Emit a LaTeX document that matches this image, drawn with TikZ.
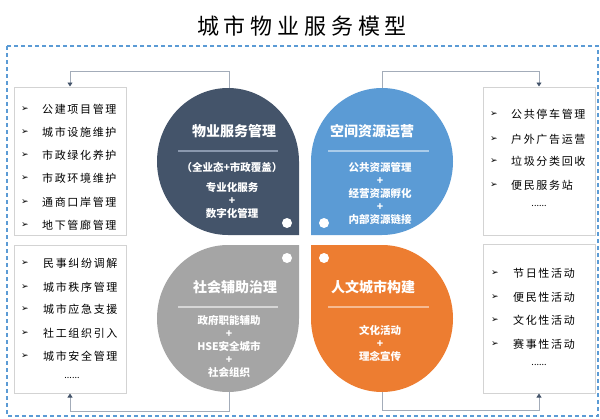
\documentclass[tikz,border=0pt]{standalone}
\usepackage{fontspec}
\setmainfont{Noto Sans CJK SC}
\newfontfamily\listfont{Noto Sans CJK SC}[LetterSpace=15]
\newfontfamily\titlefont{Noto Sans CJK SC}[LetterSpace=22]
\newfontfamily\symfont{DejaVu Sans}
\usetikzlibrary{arrows.meta}
\definecolor{cdark}{HTML}{44546A}
\definecolor{cblue}{HTML}{5B9BD5}
\definecolor{cgray}{HTML}{A5A5A5}
\definecolor{corange}{HTML}{ED7D31}
\definecolor{cline}{HTML}{A3ACB9}
\definecolor{cbox}{HTML}{D3D3D3}
\definecolor{cborder}{HTML}{5B9BD5}
\begin{document}
\begin{tikzpicture}[x=1pt,y=-1pt,
  listbox/.style={draw=cbox, line width=1pt, minimum width=112pt, minimum height=148pt, inner sep=0pt, fill=white},
  itemtext/.style={anchor=west, inner sep=0pt, font=\listfont\fontsize{11}{13}\selectfont},
  arrowmark/.style={anchor=west, inner sep=0pt, font=\symfont\fontsize{9}{10}\selectfont},
  dotstext/.style={inner sep=0pt, font=\fontsize{9}{10}\selectfont},
  qtitle/.style={text=white, inner sep=0pt, font=\bfseries\fontsize{14}{16}\selectfont},
  qtext/.style={text=white, inner sep=0pt, align=center, font=\bfseries\fontsize{10.5}{13}\selectfont},
  conn/.style={draw=cline, line width=0.9pt},
  tipped/.style={-{Triangle[length=4pt,width=5pt,color=cdark]}},
  wdot/.style={fill=white}
]
\useasboundingbox (0,0) rectangle (600,418);
% title
\node[inner sep=0pt, font=\titlefont\fontsize{22}{24}\selectfont] (title) at (302,26) {城市物业服务模型};
% dashed frame
\draw[cborder, line width=1.2pt, dash pattern=on 4pt off 3pt] (7,46) rectangle (598,416);

% quadrant shapes
\fill[cdark] (228,88) .. controls (267.2,88) and (299,120.9) .. (299,161.5) -- (299,235) -- (228,235)
  .. controls (188.8,235) and (157,202.1) .. (157,161.5) .. controls (157,120.9) and (188.8,88) .. (228,88) -- cycle;
\fill[cblue] (382,88) .. controls (421.2,88) and (453,120.9) .. (453,161.5) .. controls (453,202.1) and (421.2,235) .. (382,235)
  -- (311,235) -- (311,161.5) .. controls (311,120.9) and (342.8,88) .. (382,88) -- cycle;
\fill[cgray] (228,245) -- (299,245) -- (299,318.5) .. controls (299,359.1) and (267.2,392) .. (228,392)
  .. controls (188.8,392) and (157,359.1) .. (157,318.5) .. controls (157,277.9) and (188.8,245) .. (228,245) -- cycle;
\fill[corange] (311,245) -- (382,245) .. controls (421.2,245) and (453,277.9) .. (453,318.5) .. controls (453,359.1) and (421.2,392) .. (382,392)
  .. controls (342.8,392) and (311,359.1) .. (311,318.5) -- cycle;

\coordinate (dtop) at (229,88);
\coordinate (btop) at (382,88);
\coordinate (gbot) at (229,392);
\coordinate (obot) at (382,392);

% white dots
\fill[wdot] (287,223) circle (5);
\fill[wdot] (324,223) circle (5);
\fill[wdot] (287,258) circle (5);
\fill[wdot] (324,258) circle (5);

% divider lines
\draw[line width=1.3pt, draw={rgb,255:red,138;green,152;blue,174}] (178,151) -- (278,151);
\draw[line width=1.3pt, draw={rgb,255:red,170;green,204;blue,234}] (328,151) -- (429,151);
\draw[line width=1.3pt, draw={rgb,255:red,214;green,214;blue,214}] (178,307) -- (278,307);
\draw[line width=1.3pt, draw={rgb,255:red,246;green,186;blue,146}] (328,307) -- (429,307);

% quadrant texts
\node[qtitle] (t1) at (234,131) {物业服务管理};
\node[qtitle] (t2) at (372,131) {空间资源运营};
\node[qtitle] (t3) at (235,287) {社会辅助治理};
\node[qtitle] (t4) at (373,287) {人文城市构建};

\node[qtext] (s1a) at (232,167) {（全业态+市政覆盖）};
\node[qtext] (s1b) at (232,200) {专业化服务\\+\\数字化管理};
\node[qtext] (s2) at (380,193) {公共资源管理\\+\\经营资源孵化\\+\\内部资源链接};
\node[qtext] (s3) at (229,346) {政府职能辅助\\+\\HSE安全城市\\+\\社会组织};
\node[qtext] (s4) at (380,343) {文化活动\\+\\理念宣传};

% list boxes
\node[listbox] (lt) at (70,161) {};
\node[listbox] (lb) at (70,319) {};
\node[listbox] (rt) at (539,161) {};
\node[listbox, minimum height=149pt] (rb) at (539,318.5) {};

\foreach \t/\y [count=\i] in {公建项目管理/109, 城市设施维护/132, 市政绿化养护/155, 市政环境维护/178, 通商口岸管理/202, 地下管廊管理/225}{
  \node[arrowmark] (ltm\i) at (21,\y) {➢};
  \node[itemtext] (lti\i) at (42,\y) {\t};
}
\foreach \t/\y [count=\i] in {民事纠纷调解/263, 城市秩序管理/287, 城市应急支援/309, 社工组织引入/333, 城市安全管理/356}{
  \node[arrowmark] (lbm\i) at (21,\y) {➢};
  \node[itemtext] (lbi\i) at (43,\y) {\t};
}
\node[dotstext] (lbd) at (72,378) {......};
\foreach \t/\y [count=\i] in {公共停车管理/114, 户外广告运营/139, 垃圾分类回收/161, 便民服务站/185}{
  \node[arrowmark] (rtm\i) at (490,\y) {➢};
  \node[itemtext] (rti\i) at (511,\y) {\t};
}
\node[dotstext] (rtd) at (539,206) {......};
\foreach \t/\y [count=\i] in {节日性活动/273, 便民性活动/297, 文化性活动/320, 赛事性活动/344}{
  \node[arrowmark] (rbm\i) at (491,\y) {➢};
  \node[itemtext] (rbi\i) at (513,\y) {\t};
}
\node[dotstext] (rbd) at (539,365) {......};

% connectors
\draw[conn, tipped] (dtop) -- (229,71) -| (lt.north);
\draw[conn, tipped] (btop) -- (382,71) -| (rt.north);
\draw[conn, tipped] (gbot) -- (229,411) -| (lb.south);
\draw[conn, tipped] (obot) -- (382,410) -| (rb.south);
\end{tikzpicture}
\end{document}
